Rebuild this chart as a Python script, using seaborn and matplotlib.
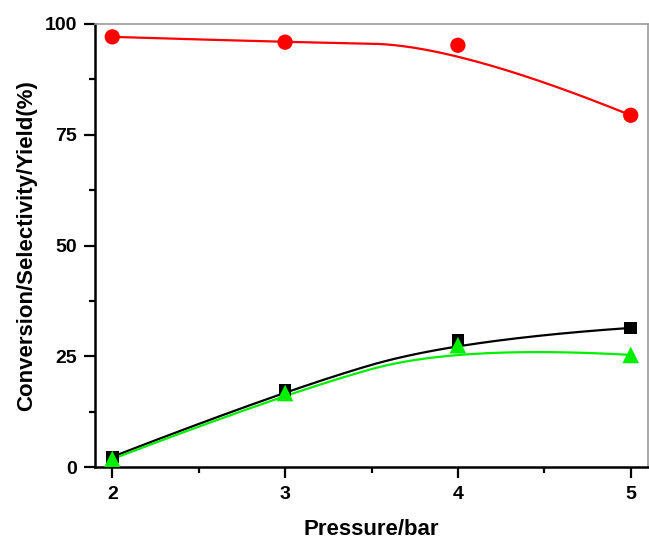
import numpy as np
import pandas as pd
import matplotlib
matplotlib.use("Agg")
import matplotlib.pyplot as plt
import seaborn as sns
from matplotlib.ticker import MultipleLocator

pressure = [2, 3, 4, 5]
selectivity = [97.1, 95.9, 95.2, 79.4]
conversion = [2.3, 17.4, 28.7, 31.4]
yield_ = [1.8, 16.7, 27.5, 25.3]

x_ticks = [2, 3, 4, 5]
y_ticks = [0, 25, 50, 75, 100]


def bspline2(xs, ys, n=200):
    """Clamped quadratic B-spline using the data points as control points."""
    P = np.column_stack([xs, ys]).astype(float)
    k = len(P)
    m = k - 2  # number of segments
    pts = []
    for i in range(m):
        a = P[i] if i == 0 else (P[i] + P[i + 1]) / 2
        b = P[i + 1]
        c = P[i + 2] if i == m - 1 else (P[i + 1] + P[i + 2]) / 2
        s = np.linspace(0, 1, n)[:, None]
        seg = (1 - s) ** 2 * a + 2 * s * (1 - s) * b + s ** 2 * c
        pts.append(seg if i == 0 else seg[1:])
    pts = np.vstack(pts)
    return pts[:, 0], pts[:, 1]


sns.set_theme(style="ticks", rc={
    "text.color": "black", "axes.labelcolor": "black",
    "xtick.color": "black", "ytick.color": "black",
})
plt.rcParams['font.family'] = ['Liberation Sans', 'DejaVu Sans']

fig = plt.figure(figsize=(6.49, 5.40), dpi=100)
ax = fig.add_axes([95 / 649, 1 - 467 / 540, (648 - 95) / 649, (467 - 24) / 540])

series = [
    (selectivity, "#ff0000", "o", 11),
    (conversion, "#000000", "s", 9),
    (yield_, "#00f000", "^", 12),
]
for vals, col, mk, ms in series:
    cx, cy = bspline2(pressure, vals)
    sns.lineplot(x=cx, y=cy, ax=ax, color=col, linewidth=1.6, sort=False,
                 estimator=None)
    sns.scatterplot(x=pressure, y=vals, ax=ax, color=col, marker=mk,
                    s=ms ** 2, edgecolor="none", zorder=5)

ax.set_xlim(1.9, 5.1)
ax.set_ylim(0, 100)
ax.set_xticks(x_ticks)
ax.set_yticks(y_ticks)
ax.xaxis.set_minor_locator(MultipleLocator(0.5))
ax.yaxis.set_minor_locator(MultipleLocator(12.5))
ax.tick_params(axis='both', which='major', direction='out', length=8,
               width=1.6, color='black', labelcolor='black', labelsize=14,
               pad=5)
ax.tick_params(axis='x', which='major', pad=6)
ax.tick_params(axis='both', which='minor', direction='out', length=4,
               width=1.6, color='black')
for lab in ax.get_xticklabels() + ax.get_yticklabels():
    lab.set_fontweight('bold')

for side in ['left', 'bottom']:
    ax.spines[side].set_color('black')
    ax.spines[side].set_linewidth(1.8)
for side in ['top', 'right']:
    ax.spines[side].set_visible(True)
    ax.spines[side].set_color('#999999')
    ax.spines[side].set_linewidth(1.2)

ax.set_xlabel("Pressure/bar", fontsize=16, fontweight='bold', color='black')
ax.set_ylabel("Conversion/Selectivity/Yield(%)", fontsize=16,
              fontweight='bold', color='black')
ax.xaxis.set_label_coords(0.5, -(519 - 467) / 443)
ax.yaxis.set_label_coords(-(95 - 37) / 553, 0.5)

fig.savefig("out.png", dpi=100)
